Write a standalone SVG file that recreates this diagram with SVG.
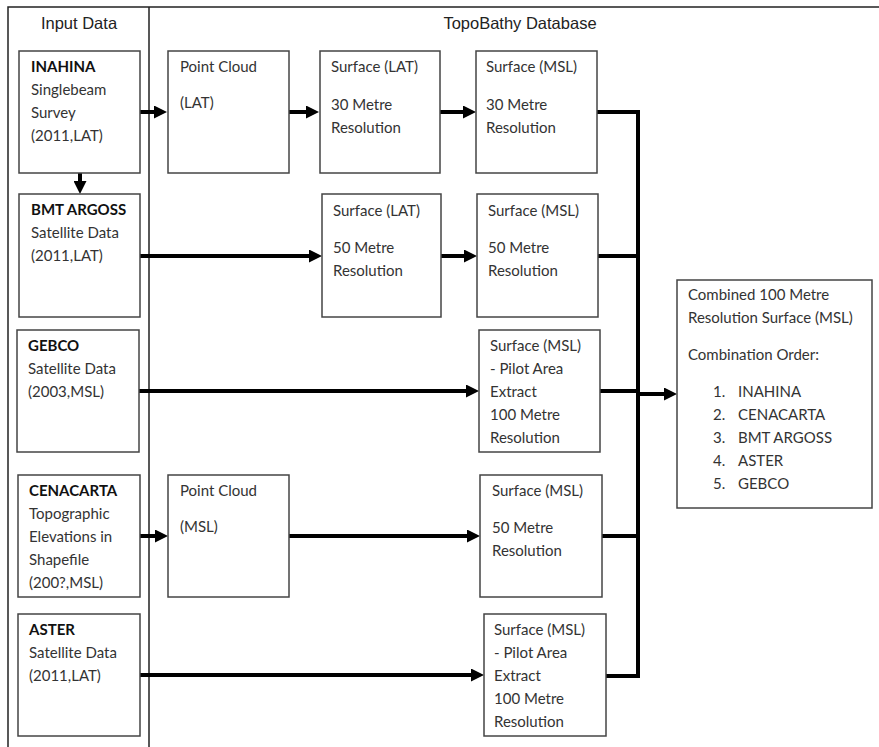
<svg xmlns="http://www.w3.org/2000/svg" width="879" height="747" viewBox="0 0 879 747">
<defs>
<style>
.frame{stroke:#222;stroke-width:1.5;fill:none}
.box{fill:#fff;stroke:#444;stroke-width:1.5}
.hdr{font-family:"Liberation Sans",Arial,sans-serif;font-size:16.5px;fill:#222}
.t{font-family:Lato,"Open Sans",sans-serif;font-size:15px;fill:#333}
.b{font-family:Lato,"Open Sans",sans-serif;font-size:15px;font-weight:bold;fill:#111}
.c{fill:none;stroke:#000;stroke-width:4}
</style>
<marker id="ah" markerUnits="userSpaceOnUse" markerWidth="13" markerHeight="13" refX="5" refY="6.5" orient="auto" viewBox="0 0 13 13">
<path d="M0,0 L13,6.5 L0,13 z" fill="#000"/>
</marker>
</defs>
<rect width="879" height="747" fill="#fff"/>
<g id="frame">
<path class="frame" d="M8,747 V7 H879 M149,7 V747"/>
<text class="hdr" x="79" y="29" text-anchor="middle">Input Data</text>
<text class="hdr" x="520" y="29" text-anchor="middle">TopoBathy Database</text>
</g>
<g id="connectors">
<path class="c" d="M597,112 H638 V676 H606"/>
<path class="c" d="M598,256 H638 M600,391 H638 M602,536 H638"/>
<path class="c" marker-end="url(#ah)" d="M140,112 H159"/>
<path class="c" marker-end="url(#ah)" d="M289,112 H311"/>
<path class="c" marker-end="url(#ah)" d="M440,112 H468"/>
<path class="c" marker-end="url(#ah)" d="M80,173 V186"/>
<path class="c" marker-end="url(#ah)" d="M140,256 H314"/>
<path class="c" marker-end="url(#ah)" d="M441,256 H469"/>
<path class="c" marker-end="url(#ah)" d="M139,391 H471"/>
<path class="c" marker-end="url(#ah)" d="M140,536 H160"/>
<path class="c" marker-end="url(#ah)" d="M289,536 H472"/>
<path class="c" marker-end="url(#ah)" d="M140,675 H476"/>
<path class="c" marker-end="url(#ah)" d="M638,394 H669"/>
</g>
<g id="inahina">
<rect class="box" x="19" y="51" width="121" height="122"/>
<text class="b" x="31" y="72">INAHINA</text>
<text class="t" x="31" y="95">Singlebeam</text>
<text class="t" x="31" y="118">Survey</text>
<text class="t" x="31" y="141">(2011,LAT)</text>
</g>
<g id="pointcloud-lat">
<rect class="box" x="168" y="51" width="121" height="122"/>
<text class="t" x="180" y="72">Point Cloud</text>
<text class="t" x="180" y="108">(LAT)</text>
</g>
<g id="surface-lat-30">
<rect class="box" x="320" y="51" width="120" height="122"/>
<text class="t" x="331" y="72">Surface (LAT)</text>
<text class="t" x="331" y="110">30 Metre</text>
<text class="t" x="331" y="133">Resolution</text>
</g>
<g id="surface-msl-30">
<rect class="box" x="476" y="51" width="121" height="122"/>
<text class="t" x="486" y="72">Surface (MSL)</text>
<text class="t" x="486" y="110">30 Metre</text>
<text class="t" x="486" y="133">Resolution</text>
</g>
<g id="bmt-argoss">
<rect class="box" x="19" y="194" width="121" height="123"/>
<text class="b" x="31" y="215">BMT ARGOSS</text>
<text class="t" x="31" y="238">Satellite Data</text>
<text class="t" x="31" y="261">(2011,LAT)</text>
</g>
<g id="surface-lat-50">
<rect class="box" x="322" y="194" width="119" height="123"/>
<text class="t" x="333" y="216">Surface (LAT)</text>
<text class="t" x="333" y="253">50 Metre</text>
<text class="t" x="333" y="276">Resolution</text>
</g>
<g id="surface-msl-50-bmt">
<rect class="box" x="477" y="194" width="121" height="123"/>
<text class="t" x="488" y="216">Surface (MSL)</text>
<text class="t" x="488" y="253">50 Metre</text>
<text class="t" x="488" y="276">Resolution</text>
</g>
<g id="gebco">
<rect class="box" x="17" y="330" width="122" height="122"/>
<text class="b" x="28" y="351">GEBCO</text>
<text class="t" x="28" y="374">Satellite Data</text>
<text class="t" x="28" y="397">(2003,MSL)</text>
</g>
<g id="surface-msl-pilot-gebco">
<rect class="box" x="479" y="330" width="121" height="122"/>
<text class="t" x="490" y="351">Surface (MSL)</text>
<text class="t" x="490" y="374">- Pilot Area</text>
<text class="t" x="490" y="397">Extract</text>
<text class="t" x="490" y="420">100 Metre</text>
<text class="t" x="490" y="443">Resolution</text>
</g>
<g id="cenacarta">
<rect class="box" x="18" y="475" width="122" height="122"/>
<text class="b" x="29" y="496">CENACARTA</text>
<text class="t" x="29" y="519">Topographic</text>
<text class="t" x="29" y="542">Elevations in</text>
<text class="t" x="29" y="565">Shapefile</text>
<text class="t" x="29" y="588">(200?,MSL)</text>
</g>
<g id="pointcloud-msl">
<rect class="box" x="168" y="475" width="121" height="122"/>
<text class="t" x="180" y="496">Point Cloud</text>
<text class="t" x="180" y="532">(MSL)</text>
</g>
<g id="surface-msl-50-cenacarta">
<rect class="box" x="480" y="475" width="122" height="122"/>
<text class="t" x="492" y="496">Surface (MSL)</text>
<text class="t" x="492" y="533">50 Metre</text>
<text class="t" x="492" y="556">Resolution</text>
</g>
<g id="aster">
<rect class="box" x="18" y="614" width="122" height="122"/>
<text class="b" x="29" y="635">ASTER</text>
<text class="t" x="29" y="658">Satellite Data</text>
<text class="t" x="29" y="681">(2011,LAT)</text>
</g>
<g id="surface-msl-pilot-aster">
<rect class="box" x="484" y="614" width="122" height="122"/>
<text class="t" x="494" y="635">Surface (MSL)</text>
<text class="t" x="494" y="658">- Pilot Area</text>
<text class="t" x="494" y="681">Extract</text>
<text class="t" x="494" y="704">100 Metre</text>
<text class="t" x="494" y="727">Resolution</text>
</g>
<g id="combined">
<rect class="box" x="677" y="280" width="195" height="228"/>
<text class="t" x="688" y="300">Combined 100 Metre</text>
<text class="t" x="688" y="323">Resolution Surface (MSL)</text>
<text class="t" x="688" y="360">Combination Order:</text>
<text class="t" x="713" y="397">1.</text><text class="t" x="738" y="397">INAHINA</text>
<text class="t" x="713" y="420">2.</text><text class="t" x="738" y="420">CENACARTA</text>
<text class="t" x="713" y="443">3.</text><text class="t" x="738" y="443">BMT ARGOSS</text>
<text class="t" x="713" y="466">4.</text><text class="t" x="738" y="466">ASTER</text>
<text class="t" x="713" y="489">5.</text><text class="t" x="738" y="489">GEBCO</text>
</g>
</svg>
